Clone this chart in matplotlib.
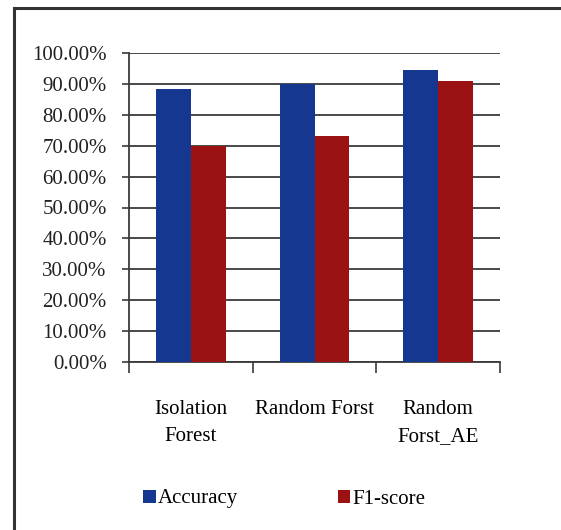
import matplotlib
matplotlib.use("Agg")
import matplotlib.pyplot as plt
import numpy as np
from matplotlib.lines import Line2D
from matplotlib.ticker import FuncFormatter

models = ["Isolation\nForest", "Random Forst", "Random\nForst_AE"]
accuracy = [88.2, 90.0, 94.4]
f1_score = [70.0, 73.2, 90.8]
series_names = ["Accuracy", "F1-score"]

blue = "#16378f"
red = "#9a1212"
grid_col = "#3a3a3a"

plt.rcParams["font.family"] = ["Liberation Serif", "DejaVu Serif"]
plt.rcParams["font.size"] = 15

fig = plt.figure(figsize=(5.61, 5.30), dpi=100)
ax = fig.add_axes([129 / 561, 1 - 362 / 530, 371 / 561, 309 / 530])

x = np.arange(len(models))
w = 0.283
b1 = ax.bar(x - w / 2, accuracy, w, color=blue, label=series_names[0], zorder=3)
b2 = ax.bar(x + w / 2, f1_score, w, color=red, label=series_names[1], zorder=3)

ax.set_xlim(-0.5, 2.5)
ax.set_ylim(0, 100)
ax.set_yticks(np.arange(0, 101, 10))
ax.yaxis.set_major_formatter(FuncFormatter(lambda v, p: f"{v:.2f}%"))
ax.yaxis.grid(True, color=grid_col, linewidth=1.3, zorder=0)
ax.set_axisbelow(True)

ax.set_xticks([-0.5, 0.5, 1.5, 2.5])
ax.set_xticklabels([])
ax.set_xticks(x, minor=True)
ax.set_xticklabels(models, minor=True, linespacing=1.6)
ax.tick_params(axis="x", which="major", length=8, width=1.2, color=grid_col, direction="out")
ax.tick_params(axis="x", which="minor", length=0, pad=27)
ax.tick_params(axis="y", length=5, width=1.2, color=grid_col, pad=11)
for lab in ax.get_yticklabels():
    lab.set_color("#222222")

for s in ["top", "right"]:
    ax.spines[s].set_visible(False)
ax.spines["left"].set_color(grid_col)
ax.spines["bottom"].set_color(grid_col)
ax.spines["left"].set_linewidth(1.3)
ax.spines["bottom"].set_linewidth(1.3)

fig.legend(handles=[b1, b2], labels=series_names, loc="center left",
           bbox_to_anchor=(143 / 561, 1 - 499 / 530), ncol=2, frameon=False,
           handlelength=0.6, handleheight=0.6, handletextpad=0.1,
           columnspacing=4.8, borderpad=0, borderaxespad=0)

# outer frame (left and top edges)
fig.add_artist(Line2D([14 / 561, 14 / 561], [0, 1 - 8 / 530], transform=fig.transFigure,
                      color="#333333", linewidth=2.2))
fig.add_artist(Line2D([14 / 561, 1], [1 - 8 / 530, 1 - 8 / 530], transform=fig.transFigure,
                      color="#333333", linewidth=2.2))

fig.savefig("out.png", dpi=100)
